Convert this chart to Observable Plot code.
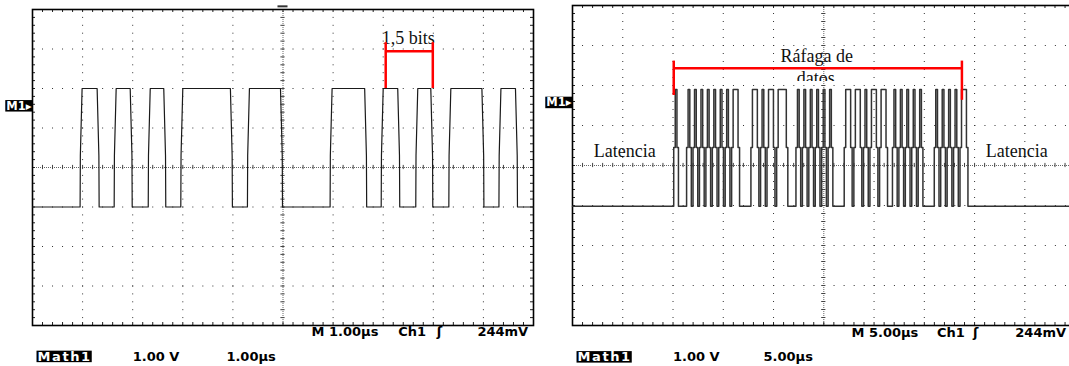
<!DOCTYPE html>
<html><head><meta charset="utf-8">
<script src="https://cdn.jsdelivr.net/npm/d3@7"></script>
<script src="https://cdn.jsdelivr.net/npm/@observablehq/plot@0.6"></script>
<style>
html,body{margin:0;padding:0;background:#fff;width:1069px;height:366px;overflow:hidden;}
#left{position:absolute;left:0;top:0;width:540px;height:366px;}
#right{position:absolute;left:540px;top:0;width:535px;height:366px;}
svg{max-width:none !important;overflow:visible;}
</style></head><body>
<div id="left"></div><div id="right"></div>
<script>
// ---------- DATA: left capture (1.00 µs/div, 1.00 V/div) ----------
const leftRiseTimes = [0.97, 1.65, 2.33, 2.98, 4.31, 5.96, 6.98, 7.67, 8.33, 9.33];   // µs
const leftFallTimes = [1.31, 1.97, 2.64, 3.97, 4.97, 6.65, 7.31, 7.97, 8.99, 9.66];   // µs
const leftLow = -1.0, leftHigh = 2.0, leftKnee = 0.3;                                  // divisions
// ---------- DATA: right capture (5.00 µs/div) ----------
const burstStart = 10.07;   // µs
const burstSlot = 0.32;     // µs (half bit)
const burstBits = "1" + "000" + "10101010" + "1010101" + "10" + "000" + "11010110111" + "000" +
                  "101010101010" + "000" + "1101101011011" + "00" + "101010101" + "0000" + "1010101011";
const rightLow = -1.02, rightHigh = 1.9, rightMid = 0.45;
// ---------- labels ----------
const leftStatus = ["M 1.00µs", "Ch1", "ʃ", "244mV"];
const leftStatusX = [5.57, 7.30, 8.07, 8.88];
const leftMath = ["Math1", "1.00 V", "1.00µs"];
const leftMathX = [0.1, 2.0, 3.87];
const rightStatus = ["M 5.00µs", "Ch1", "ʃ", "244mV"];
const rightStatusX = [27.75, 36.25, 39.85, 44.05];
const rightMath = ["Math1", "1.00 V", "5.00µs"];
const rightMathX = [0.5, 10.0, 19.0];
const latencyX = [5.2, 44.2];
const gridDivX = [1, 2, 3, 4, 6, 7, 8, 9];
const gridDivY = [-3, -2, -1, 1, 2, 3];

// ---------- build traces ----------
const leftEdges = [...leftRiseTimes.map(t => ({t, up: true})), ...leftFallTimes.map(t => ({t, up: false}))]
  .sort((a, b) => a.t - b.t);
const leftTrace = [{t: 0, v: leftLow}];
for (const e of leftEdges) {
  if (e.up) leftTrace.push({t: e.t - 0.02, v: leftLow}, {t: e.t - 0.015, v: leftKnee}, {t: e.t + 0.02, v: leftHigh});
  else leftTrace.push({t: e.t - 0.02, v: leftHigh}, {t: e.t + 0.015, v: leftKnee}, {t: e.t + 0.02, v: leftLow});
}
leftTrace.push({t: 10, v: leftLow});

const rightTrace = [{t: 0, v: rightLow}];
let prev = rightLow;
for (let i = 0; i <= burstBits.length; i++) {
  const v = i < burstBits.length && burstBits[i] === "1" ? rightHigh : rightLow;
  if (v !== prev) {
    const t = burstStart + i * burstSlot;
    rightTrace.push({t, v: prev}, {t, v: rightMid}, {t: t + 0.15, v: rightMid}, {t: t + 0.15, v});
    prev = v;
  }
}
rightTrace.push({t: 50, v: rightLow});

// ---------- oscilloscope graticule ----------
function graticule(u, pxX, pxY) {
  const minorX = d3.range(0, 10.001, 0.2).map(d => d * u);
  const minorY = d3.range(-4, 4.001, 0.2);
  const tY = 3 / pxY, tX = 3 / pxX * u;
  return [
    Plot.ruleX(gridDivX.map(d => d * u), {stroke: "#333", strokeWidth: 1, strokeDasharray: `1,${pxY / 5 - 1}`}),
    Plot.ruleY(gridDivY, {stroke: "#333", strokeWidth: 1, strokeDasharray: `1,${pxX / 5 - 1}`}),
    Plot.ruleX([5 * u], {stroke: "#666", strokeWidth: 1, strokeDasharray: "1,1"}),
    Plot.ruleY([0], {stroke: "#666", strokeWidth: 1, strokeDasharray: "1,1"}),
    Plot.ruleX(minorX, {y1: -tY * 0.7, y2: tY * 0.7, stroke: "#444"}),
    Plot.ruleY(minorY, {x1: 5 * u - tX * 0.7, x2: 5 * u + tX * 0.7, stroke: "#444"}),
    Plot.ruleX(minorX, {y1: -4, y2: -4 + tY, stroke: "#222"}),
    Plot.ruleX(minorX, {y1: 4, y2: 4 - tY, stroke: "#222"}),
    Plot.ruleY(minorY, {x1: 0, x2: tX, stroke: "#222"}),
    Plot.ruleY(minorY, {x1: 10 * u, x2: 10 * u - tX, stroke: "#222"}),
    Plot.frame({stroke: "#000", strokeWidth: 1.6})
  ];
}
const serif = {fontFamily: "Liberation Serif, Times New Roman, serif", fontSize: 18, fill: "#111", lineAnchor: "bottom"};
const mono = {fontFamily: "DejaVu Sans, sans-serif", fontWeight: "bold", fontSize: 13, fill: "#000", textAnchor: "start", lineAnchor: "bottom"};

function statusMarks(status, statusX, math, mathX, yS, yM, xM1, yM1) {
  return [
    Plot.text(status, {...mono, x: (d, i) => statusX[i], y: yS}),
    Plot.text(math, {...mono, x: (d, i) => mathX[i], y: yM, fill: (d, i) => i === 0 ? "#fff" : "#000"}),
    Plot.text(["M1▸"], {fontFamily: "DejaVu Sans, sans-serif", fontWeight: "bold", fontSize: 11.5, fill: "#fff", x: xM1, y: yM1, textAnchor: "end", dx: -1})
  ];
}

// ---------- left plot ----------
const leftPlot = Plot.plot({
  width: 540, height: 366,
  marginLeft: 32, marginRight: 7, marginTop: 9, marginBottom: 41,
  x: {domain: [0, 10], axis: null},
  y: {domain: [-4, 4], axis: null},
  style: {background: "#fff", overflow: "visible"},
  marks: [
    ...graticule(1, 50.1, 39.5),
    Plot.ruleY([4.08], {x1: 4.9, x2: 5.1, stroke: "#333", strokeWidth: 2}),
    Plot.line(leftTrace, {x: "t", y: "v", stroke: "#1a1a1a", strokeWidth: 1.2}),
    Plot.text(["1,5 bits"], {...serif, x: 7.5, y: 3.12}),
    Plot.ruleX([7.05, 7.99], {y1: 2.0, y2: 3.16, stroke: "#ff0000", strokeWidth: 2.5}),
    Plot.ruleY([2.94], {x1: 7.05, x2: 7.99, stroke: "#ff0000", strokeWidth: 2.5}),
    ...statusMarks(leftStatus, leftStatusX, leftMath, leftMathX, -4.27, -4.89, 0, 1.56)
  ]
});
document.getElementById("left").append(leftPlot);

// ---------- right plot ----------
const rightPlot = Plot.plot({
  width: 535, height: 366,
  marginLeft: 32, marginRight: 0.4, marginTop: 5, marginBottom: 41,
  x: {domain: [0, 50], axis: null},
  y: {domain: [-4, 4], axis: null},
  style: {background: "#fff", overflow: "visible"},
  marks: [
    ...graticule(5, 50.3, 40),
    Plot.line(rightTrace, {x: "t", y: "v", stroke: "#333", strokeWidth: 1.5}),
    Plot.text(["Ráfaga de"], {...serif, x: 24.3, y: 2.58}),
    Plot.text(["datos"], {...serif, x: 24.2, y: 2.03}),
    Plot.text(["Latencia", "Latencia"], {...serif, x: (d, i) => latencyX[i], y: 0.225}),
    Plot.ruleX([10.07], {y1: 1.75, y2: 2.61, stroke: "#ff0000", strokeWidth: 2.5}),
    Plot.ruleX([38.74], {y1: 1.63, y2: 2.61, stroke: "#ff0000", strokeWidth: 2.5}),
    Plot.ruleY([2.43], {x1: 10.07, x2: 38.74, stroke: "#ff0000", strokeWidth: 2.5}),
    ...statusMarks(rightStatus, rightStatusX, rightMath, rightMathX, -4.275, -4.89, 0, 1.575)
  ]
});
document.getElementById("right").append(rightPlot);

// ---------- post-processing: black label boxes & clipped "datos" ----------
for (const svg of [leftPlot, rightPlot]) {
  d3.select(svg).selectAll("text").each(function () {
    const txt = this.textContent;
    if (txt === "Math1") this.setAttribute("letter-spacing", "1.6");
    if (txt === "Math1" || txt === "M1▸") {
      const b = this.getBBox();
      const isM1 = txt === "M1▸";
      const r = d3.select(this.parentNode).insert("rect", () => this)
        .attr("x", b.x - (isM1 ? 1 : 1)).attr("y", b.y + (isM1 ? 1.5 : 2))
        .attr("width", b.width + (isM1 ? 2 : 1)).attr("height", b.height - (isM1 ? 2.5 : 3.5))
        .attr("fill", "#000");
      if (this.getAttribute("transform")) r.attr("transform", this.getAttribute("transform"));
    }
  });
}
{
  const svg = d3.select(rightPlot);
  const defs = svg.insert("defs", ":first-child");
  defs.append("clipPath").attr("id", "datosClip").attr("clipPathUnits", "userSpaceOnUse").append("rect")
    .attr("x", 0).attr("y", 0).attr("width", 535).attr("height", 80.5);
  svg.selectAll("text").filter(function () { return this.textContent === "datos"; })
    .each(function () { this.parentNode.setAttribute("clip-path", "url(#datosClip)"); });
}
</script>
</body></html>
